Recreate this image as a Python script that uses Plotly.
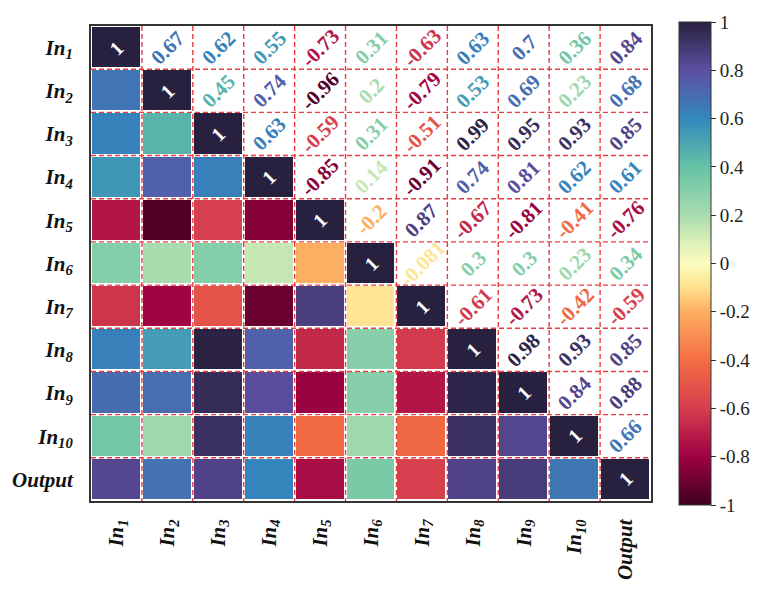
import plotly.graph_objects as go
from plotly.colors import sample_colorscale

# Variable names (rendered with subscripts)
names = ["In1", "In2", "In3", "In4", "In5", "In6", "In7", "In8", "In9", "In10", "Output"]
tick_labels = ["In<sub>1</sub>", "In<sub>2</sub>", "In<sub>3</sub>", "In<sub>4</sub>",
               "In<sub>5</sub>", "In<sub>6</sub>", "In<sub>7</sub>", "In<sub>8</sub>",
               "In<sub>9</sub>", "In<sub>10</sub>", "Output"]

# Upper-triangle Pearson coefficients, row by row (diagonal included)
r_in1 = [1, 0.67, 0.62, 0.55, -0.73, 0.31, -0.63, 0.63, 0.7, 0.36, 0.84]
r_in2 = [1, 0.45, 0.74, -0.96, 0.2, -0.79, 0.53, 0.69, 0.23, 0.68]
r_in3 = [1, 0.63, -0.59, 0.31, -0.51, 0.99, 0.95, 0.93, 0.85]
r_in4 = [1, -0.85, 0.14, -0.91, 0.74, 0.81, 0.62, 0.61]
r_in5 = [1, -0.2, 0.87, -0.67, -0.81, -0.41, -0.76]
r_in6 = [1, -0.081, 0.3, 0.3, 0.23, 0.34]
r_in7 = [1, -0.61, -0.73, -0.42, -0.59]
r_in8 = [1, 0.98, 0.93, 0.85]
r_in9 = [1, 0.84, 0.88]
r_in10 = [1, 0.66]
r_out = [1]
upper = [r_in1, r_in2, r_in3, r_in4, r_in5, r_in6, r_in7, r_in8, r_in9, r_in10, r_out]

n = len(names)
corr = [[0.0] * n for _ in range(n)]
for i, row in enumerate(upper):
    for k, v in enumerate(row):
        j = i + k
        corr[i][j] = v
        corr[j][i] = v

# Spectral-like scale with darkened ends
colorscale = [
    [0.00, "#3f0020"],
    [0.10, "#9e0142"],
    [0.20, "#d53e4f"],
    [0.30, "#f46d43"],
    [0.40, "#fdae61"],
    [0.45, "#fee08b"],
    [0.50, "#fcfcc0"],
    [0.55, "#d8eeb6"],
    [0.60, "#a8dcae"],
    [0.70, "#66c2a5"],
    [0.80, "#3288bd"],
    [0.90, "#5e4fa2"],
    [1.00, "#28203f"],
]

# Lower triangle (with diagonal) drawn as coloured tiles
z_lower = [[corr[i][j] if j <= i else None for j in range(n)] for i in range(n)]

serif = "Liberation Serif, Times New Roman, serif"

fig = go.Figure()
fig.add_trace(go.Heatmap(
    z=z_lower,
    x=list(range(n)),
    y=list(range(n)),
    zmin=-1, zmax=1,
    colorscale=colorscale,
    xgap=3, ygap=3,
    hoverongaps=False,
    colorbar=dict(
        x=1.032, xanchor="left", xref="paper",
        y=0.5, yanchor="middle",
        len=503, lenmode="pixels",
        thickness=32, thicknessmode="pixels",
        outlinecolor="#333333", outlinewidth=1,
        ticks="outside", ticklen=5, tickcolor="#333333",
        tickvals=[1, 0.8, 0.6, 0.4, 0.2, 0, -0.2, -0.4, -0.6, -0.8, -1],
        ticktext=["1", "0.8", "0.6", "0.4", "0.2", "0", "-0.2", "-0.4", "-0.6", "-0.8", "-1"],
        tickfont=dict(family=serif, size=19, color="#222222"),
    ),
))

# Coefficient labels: upper triangle coloured by value, diagonal in white
annotations = []
for i in range(n):
    for j in range(i, n):
        v = corr[i][j]
        if i == j:
            color = "white"
            size = 20
        else:
            color = sample_colorscale(colorscale, [(v + 1) / 2])[0]
            size = 21
        annotations.append(dict(
            x=j, y=i, xref="x", yref="y",
            text=f"<b>{v:g}</b>",
            showarrow=False, textangle=-45,
            font=dict(family=serif, size=size, color=color),
        ))

# Dashed red grid between cells
shapes = []
for k in range(1, n):
    b = k - 0.5
    shapes.append(dict(type="line", xref="x", yref="y", x0=b, x1=b, y0=-0.5, y1=n - 0.5,
                       line=dict(color="#ee3b40", width=1.4, dash="5px,3px"), layer="above"))
    shapes.append(dict(type="line", xref="x", yref="y", x0=-0.5, x1=n - 0.5, y0=b, y1=b,
                       line=dict(color="#ee3b40", width=1.4, dash="5px,3px"), layer="above"))

axis_font = dict(family=serif, size=21, color="#111111", weight="bold", style="italic")

fig.update_layout(
    width=773, height=592,
    margin=dict(l=86, r=98, t=13, b=76),
    paper_bgcolor="white", plot_bgcolor="white",
    annotations=annotations,
    shapes=shapes,
    xaxis=dict(
        tickmode="array", tickvals=list(range(n)), ticktext=tick_labels,
        tickangle=-90, tickfont=axis_font, ticks="", ticklabelstandoff=8,
        range=[-0.5, n - 0.5], showgrid=False, zeroline=False,
        showline=True, mirror=True, linecolor="#333333", linewidth=2,
    ),
    yaxis=dict(
        tickmode="array", tickvals=list(range(n)), ticktext=tick_labels,
        tickfont=axis_font, ticks="", ticklabelstandoff=12,
        range=[n - 0.5, -0.5], showgrid=False, zeroline=False,
        showline=True, mirror=True, linecolor="#333333", linewidth=2,
    ),
)

fig.write_html("out.html")
